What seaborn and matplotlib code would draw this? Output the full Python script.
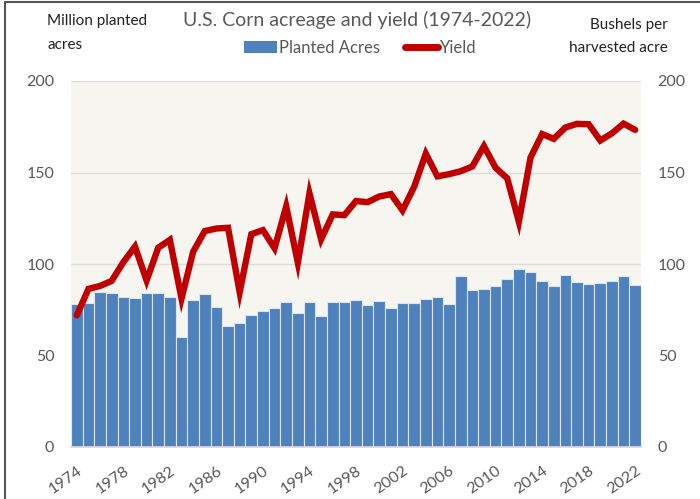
import numpy as np
import pandas as pd
import matplotlib
matplotlib.use("Agg")
import matplotlib.pyplot as plt
from matplotlib.patches import Patch
from matplotlib.lines import Line2D
import seaborn as sns

years = list(range(1974, 2023))
planted_acres = [77.9, 78.7, 84.6, 84.3, 81.7, 81.4, 84.0, 84.1, 81.9, 60.2,
                 80.5, 83.4, 76.6, 66.2, 67.7, 72.3, 74.2, 76.0, 79.3, 73.2,
                 79.2, 71.5, 79.2, 79.5, 80.2, 77.4, 79.6, 75.7, 78.9, 78.6,
                 80.9, 81.8, 78.3, 93.5, 86.0, 86.4, 88.2, 91.9, 97.2, 95.4,
                 90.6, 88.0, 94.0, 90.2, 88.9, 89.7, 90.7, 93.3, 88.6]
yield_bu = [71.9, 86.4, 88.0, 90.8, 101.0, 109.5, 91.0, 108.9, 113.2, 81.1,
            106.7, 118.0, 119.4, 119.8, 84.6, 116.3, 118.5, 108.6, 131.5, 100.7,
            138.6, 113.5, 127.1, 126.7, 134.4, 133.8, 136.9, 138.2, 129.3, 142.2,
            160.3, 147.9, 149.1, 150.7, 153.3, 164.4, 152.6, 146.8, 123.1, 158.1,
            171.0, 168.4, 174.6, 176.6, 176.4, 167.5, 171.4, 176.7, 173.3]
tick_years = list(range(1974, 2023, 4))
y_ticks = [0, 50, 100, 150, 200]

df = pd.DataFrame({"year": [str(y) for y in years],
                   "pos": np.arange(len(years)),
                   "acres": planted_acres,
                   "yield": yield_bu})

sns.set_theme(style="white")
FONT = ["Lato", "DejaVu Sans"]
plt.rcParams["font.family"] = FONT

BLUE = "#4F81BD"
RED = "#C00000"
GRAY = "#595959"

fig = plt.figure(figsize=(7.0, 4.99), dpi=100)
W, H = 700, 499
ax = fig.add_axes([71 / W, 1 - 447 / H, (641 - 71) / W, (447 - 81) / H])
ax.set_facecolor("#F6F5F0")

sns.barplot(data=df, x="year", y="acres", color=BLUE, saturation=1,
            width=1.0, edgecolor="#DCE6F2", linewidth=0.8, ax=ax, zorder=2)
ax.set_xlim(-0.5, len(years) - 0.5)
ax.set_ylim(0, 200)
ax.set_yticks(y_ticks)
ax.set_axisbelow(True)
ax.yaxis.grid(True, color="#DDDDDD", linewidth=1.0)
ax.xaxis.grid(False)
for s in ["top", "right", "left"]:
    ax.spines[s].set_visible(False)
ax.spines["bottom"].set_color("#D9D9D9")
ax.set_xlabel("")
ax.set_ylabel("")

major_pos = [years.index(y) for y in tick_years]
ax.set_xticks(major_pos)
ax.set_xticklabels([str(y) for y in tick_years], rotation=35, ha="right",
                   rotation_mode="anchor", fontsize=11.5, color=GRAY)
ax.set_xticks(np.arange(len(years) + 1) - 0.5, minor=True)
ax.tick_params(axis="x", which="major", length=0, pad=12)
ax.tick_params(axis="x", which="minor", length=5, color="#D9D9D9", width=1)
ax.tick_params(axis="y", length=0, labelsize=11.5, labelcolor=GRAY, pad=12)

ax2 = ax.twinx()
sns.lineplot(data=df, x="pos", y="yield", color=RED, linewidth=4.6,
             ax=ax2, solid_capstyle="round", solid_joinstyle="miter")
ax2.set_ylim(0, 200)
ax2.set_xlim(-0.5, len(years) - 0.5)
ax2.set_yticks(y_ticks)
ax2.tick_params(axis="y", length=0, labelsize=11.5, labelcolor=GRAY, pad=12)
for s in ["top", "right", "left", "bottom"]:
    ax2.spines[s].set_visible(False)
ax2.set_xlabel("")
ax2.set_ylabel("")
ax2.grid(False)

fig.text(357 / W, 1 - 20 / H, "U.S. Corn acreage and yield (1974-2022)",
         ha="center", va="center", fontsize=14, color=GRAY)
fig.text(47 / W, 1 - 21 / H, "Million planted", ha="left", va="center",
         fontsize=11, color="#222222")
fig.text(47 / W, 1 - 45 / H, "acres", ha="left", va="center",
         fontsize=11, color="#222222")
fig.text(668 / W, 1 - 25 / H, "Bushels per", ha="right", va="center",
         fontsize=11, color="#222222")
fig.text(668 / W, 1 - 48 / H, "harvested acre", ha="right", va="center",
         fontsize=11, color="#222222")

handles = [Patch(facecolor=BLUE, edgecolor="none"),
           Line2D([0], [0], color=RED, linewidth=5, solid_capstyle="round")]
fig.legend(handles, ["Planted Acres", "Yield"], loc="center",
           bbox_to_anchor=(360 / W, 1 - 48 / H), ncol=2, frameon=False,
           fontsize=12, labelcolor=GRAY, handlelength=2.0, handleheight=0.7,
           handletextpad=0.1, columnspacing=1.5)

# frame lines (left and top) of the screenshot
fig.add_artist(Line2D([5 / W, 5 / W], [0, 1 - 2 / H], color="#555555",
                      linewidth=1.5, transform=fig.transFigure))
fig.add_artist(Line2D([5 / W, 1], [1 - 2 / H, 1 - 2 / H], color="#555555",
                      linewidth=1.5, transform=fig.transFigure))

fig.savefig("out.png", dpi=100)
